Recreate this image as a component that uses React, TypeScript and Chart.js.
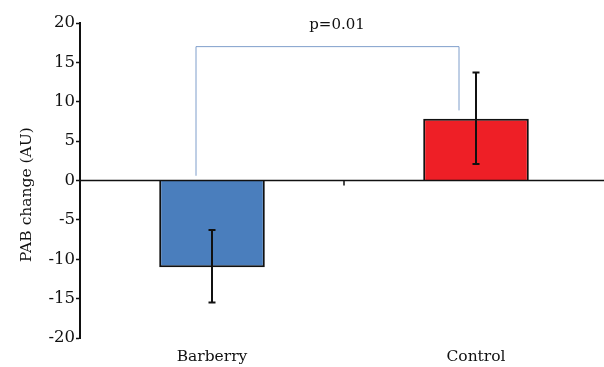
import React, { useEffect, useRef } from "react";
import { Chart, registerables } from "chart.js";

Chart.register(...registerables);

const categories = ["Barberry", "Control"];
const means = [-11, 7.85];
const errLow = [-15.5, 2.1];
const errHigh = [-6.3, 13.7];
const barColors = ["#4a7ebd", "#ee1f26"];
const yTicks = [-20, -15, -10, -5, 0, 5, 10, 15, 20];
const bracketTop = 17;
const bracketLeftEnd = 0.6;
const bracketRightEnd = 8.9;
const pLabel = "p=0.01";
const yTitle = "PAB change (AU)";

const FONT = "'DejaVu Serif', 'Liberation Serif', serif";

const overlay = {
  id: "overlay",
  afterDatasetsDraw(chart: any) {
    const { ctx, scales } = chart;
    const x = scales.x;
    const y = scales.y;
    ctx.save();
    const y0 = y.getPixelForValue(0);
    // zero line on top of bars
    ctx.strokeStyle = "#111";
    ctx.lineWidth = 1.5;
    ctx.beginPath();
    ctx.moveTo(x.left, y0);
    ctx.lineTo(x.right, y0);
    ctx.stroke();
    // error bars
    ctx.lineWidth = 2;
    categories.forEach((_, i) => {
      const cx = x.getPixelForValue(i);
      const yl = y.getPixelForValue(errLow[i]);
      const yh = y.getPixelForValue(errHigh[i]);
      ctx.beginPath();
      ctx.moveTo(cx, yl);
      ctx.lineTo(cx, yh);
      ctx.moveTo(cx - 3.5, yl);
      ctx.lineTo(cx + 3.5, yl);
      ctx.moveTo(cx - 3.5, yh);
      ctx.lineTo(cx + 3.5, yh);
      ctx.stroke();
    });
    // middle tick on zero line
    const mid = (x.getPixelForValue(0) + x.getPixelForValue(1)) / 2;
    ctx.lineWidth = 1.5;
    ctx.beginPath();
    ctx.moveTo(mid, y0);
    ctx.lineTo(mid, y0 + 5);
    ctx.stroke();
    // bracket
    const bx1 = x.getPixelForValue(0) - 16;
    const bx2 = x.getPixelForValue(1) - 17;
    const by = y.getPixelForValue(bracketTop);
    ctx.strokeStyle = "#7f9ecb";
    ctx.lineWidth = 1;
    ctx.beginPath();
    ctx.moveTo(bx1, y.getPixelForValue(bracketLeftEnd));
    ctx.lineTo(bx1, by);
    ctx.lineTo(bx2, by);
    ctx.lineTo(bx2, y.getPixelForValue(bracketRightEnd));
    ctx.stroke();
    // p label
    ctx.fillStyle = "#111";
    ctx.font = `15px ${FONT}`;
    ctx.textAlign = "center";
    ctx.textBaseline = "middle";
    ctx.fillText(pLabel, mid - 7, by - 22);
    // y title
    ctx.translate(27, (y.top + y.bottom) / 2 + 14);
    ctx.rotate(-Math.PI / 2);
    ctx.font = `15.5px ${FONT}`;
    ctx.fillText(yTitle, 0, 0);
    ctx.restore();
  },
};

export default function App() {
  const ref = useRef<HTMLCanvasElement>(null);
  useEffect(() => {
    if (!ref.current) return;
    const chart = new Chart(ref.current, {
      type: "bar",
      data: {
        labels: categories,
        datasets: [
          {
            data: means,
            backgroundColor: barColors,
            borderColor: "#111",
            borderWidth: 2,
            borderSkipped: "start",
            barPercentage: 0.4,
            categoryPercentage: 1,
          },
        ],
      },
      options: {
        animation: false,
        responsive: false,
        maintainAspectRatio: false,
        layout: { padding: { top: 23, right: 0, left: 0, bottom: 0 } },
        plugins: { legend: { display: false }, tooltip: { enabled: false } },
        scales: {
          x: {
            border: { display: false },
            grid: { display: false },
            ticks: { color: "#111", font: { family: FONT, size: 15.5 }, padding: 2 },
            afterFit(s: any) {
              s.height = 29;
            },
          },
          y: {
            min: -20,
            max: 20,
            afterBuildTicks(s: any) {
              s.ticks = yTicks.map((v) => ({ value: v }));
            },
            border: { display: true, color: "#111", width: 2 },
            grid: {
              drawOnChartArea: false,
              tickColor: "#111",
              tickLength: 4,
              tickWidth: 1.5,
            },
            ticks: { color: "#111", font: { family: FONT, size: 16.5 }, padding: 1 },
            afterFit(s: any) {
              s.width = 80;
            },
          },
        },
      },
      plugins: [overlay],
    });
    return () => chart.destroy();
  }, []);
  return (
    <div style={{ position: "fixed", left: 0, top: 0, width: 604, height: 367, overflow: "hidden", background: "#fff" }}>
      <canvas ref={ref} width={608} height={367} style={{ width: 608, height: 367, display: "block" }} />
    </div>
  );
}
